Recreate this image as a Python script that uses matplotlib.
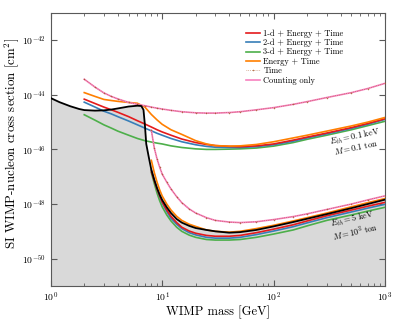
import numpy as np
import matplotlib
matplotlib.use("Agg")
import matplotlib.pyplot as plt
from matplotlib.ticker import FixedLocator, LogLocator, NullFormatter, LogFormatterSciNotation

plt.rcParams['font.family'] = ['cmr10', 'DejaVu Serif']
plt.rcParams['mathtext.fontset'] = 'cm'
plt.rcParams['axes.formatter.use_mathtext'] = True

# ---- data (log10 of cross section in cm^2) ----
# Floor curve (black)
floor_mass = [1, 1.2, 1.5, 1.8, 2, 2.5, 3, 3.5, 4, 5, 6, 6.5, 6.8, 7.0, 7.2, 7.6, 8, 8.5, 9, 9.5, 10, 11, 12,
              13.5, 15, 17.5, 20, 25, 30, 40, 50, 70, 100, 150, 200, 300, 500, 700, 1000]
floor_logsig = [-44.12, -44.27, -44.42, -44.52, -44.56, -44.58, -44.57, -44.54, -44.50, -44.43, -44.40, -44.41,
                -44.55, -45.10, -45.80, -46.30, -46.75, -47.12, -47.42, -47.66, -47.85, -48.12, -48.33,
                -48.55, -48.68, -48.80, -48.88, -48.95, -49.00, -49.05, -49.03, -48.95, -48.82, -48.66,
                -48.54, -48.37, -48.15, -48.00, -47.84]

# Upper group: E_th = 0.1 keV, M = 0.1 ton
low_mass = [2, 2.5, 3, 3.5, 4, 5, 6, 7, 8, 9, 10, 12, 15, 20, 25, 30, 40, 50, 70, 100, 150, 200, 300, 500, 700, 1000]
low_1d = [-44.16, -44.32, -44.45, -44.55, -44.64, -44.80, -44.95, -45.07, -45.18, -45.28, -45.36, -45.48, -45.62,
          -45.75, -45.82, -45.86, -45.89, -45.90, -45.87, -45.80, -45.66, -45.55, -45.40, -45.20, -45.05, -44.88]
low_2d = [-44.27, -44.45, -44.60, -44.70, -44.80, -44.96, -45.10, -45.22, -45.32, -45.41, -45.48, -45.60, -45.72,
          -45.83, -45.89, -45.92, -45.93, -45.93, -45.90, -45.83, -45.70, -45.58, -45.43, -45.23, -45.08, -44.90]
low_3d = [-44.73, -44.93, -45.10, -45.22, -45.33, -45.48, -45.60, -45.68, -45.73, -45.77, -45.80, -45.87, -45.93,
          -45.98, -46.00, -46.00, -45.99, -45.98, -45.95, -45.88, -45.75, -45.63, -45.48, -45.28, -45.13, -44.97]
low_energy = [-43.92, -44.06, -44.17, -44.21, -44.24, -44.28, -44.31, -44.45, -44.72, -44.92, -45.08, -45.28, -45.45,
              -45.68, -45.80, -45.86, -45.88, -45.87, -45.82, -45.72, -45.58, -45.48, -45.33, -45.14, -45.00, -44.83]
low_time = [-43.43, -43.72, -43.93, -44.06, -44.15, -44.28, -44.35, -44.40, -44.45, -44.49, -44.52, -44.57, -44.62,
            -44.66, -44.67, -44.67, -44.65, -44.62, -44.55, -44.47, -44.35, -44.25, -44.10, -43.92, -43.77, -43.58]
low_count = [-43.43, -43.72, -43.93, -44.06, -44.15, -44.28, -44.35, -44.40, -44.45, -44.49, -44.52, -44.57, -44.62,
             -44.66, -44.67, -44.67, -44.65, -44.62, -44.55, -44.47, -44.35, -44.25, -44.10, -43.92, -43.77, -43.58]

# Lower group: E_th = 5 keV, M = 10^3 ton
high_mass = [8, 8.5, 9, 9.5, 10, 11, 12, 13.5, 15, 17.5, 20, 25, 30, 40, 50, 70, 100, 150, 200, 300, 500, 700, 1000]
high_1d = [-46.80, -47.15, -47.45, -47.70, -47.92, -48.22, -48.45, -48.68, -48.85, -48.99, -49.07, -49.15, -49.18,
           -49.18, -49.15, -49.05, -48.92, -48.76, -48.62, -48.43, -48.22, -48.08, -47.94]
high_2d = [-46.75, -47.12, -47.45, -47.72, -47.95, -48.27, -48.52, -48.74, -48.90, -49.05, -49.13, -49.22, -49.25,
           -49.25, -49.22, -49.12, -48.99, -48.83, -48.69, -48.50, -48.29, -48.15, -48.01]
high_3d = [-46.85, -47.25, -47.60, -47.88, -48.10, -48.40, -48.62, -48.85, -49.00, -49.14, -49.22, -49.30, -49.32,
           -49.32, -49.30, -49.22, -49.10, -48.95, -48.80, -48.60, -48.40, -48.26, -48.12]
high_energy = [-46.40, -46.85, -47.20, -47.48, -47.70, -48.00, -48.22, -48.45, -48.60, -48.74, -48.82, -48.95, -49.00,
               -49.03, -49.00, -48.90, -48.78, -48.62, -48.50, -48.33, -48.10, -47.95, -47.80]
high_time = [-45.30, -45.95, -46.35, -46.65, -46.90, -47.20, -47.45, -47.73, -47.95, -48.18, -48.33, -48.50, -48.60,
             -48.66, -48.68, -48.65, -48.57, -48.46, -48.36, -48.20, -48.00, -47.85, -47.70]
high_count = [-45.30, -45.95, -46.35, -46.65, -46.90, -47.20, -47.45, -47.73, -47.95, -48.18, -48.33, -48.50, -48.60,
              -48.66, -48.68, -48.65, -48.57, -48.46, -48.36, -48.20, -48.00, -47.85, -47.70]

labels = ["1-d + Energy + Time", "2-d + Energy + Time", "3-d + Energy + Time",
          "Energy + Time", "Time", "Counting only"]

C_RED, C_BLUE, C_GREEN, C_ORANGE, C_BROWN, C_PINK = '#e41a1c', '#377eb8', '#4daf4a', '#ff7f00', '#a65628', '#f781bf'


def sig(a):
    return 10.0 ** np.asarray(a)


fig = plt.figure(figsize=(4.07, 3.22), dpi=100)
ax = fig.add_axes([0.1246, 0.112, 0.8214, 0.848])

ax.fill_between(floor_mass, 1e-53, sig(floor_logsig), color='#d9d9d9', lw=0, zorder=1)

lw = 1.2
time_kw = dict(color=C_BROWN, lw=0.5, ls=':', marker='.', ms=2.2, mew=0, alpha=0.8)

for mass, d1, d2, d3, en in [(low_mass, low_1d, low_2d, low_3d, low_energy),
                             (high_mass, high_1d, high_2d, high_3d, high_energy)]:
    ax.plot(mass, sig(d3), color=C_GREEN, lw=lw, zorder=3)
    ax.plot(mass, sig(d2), color=C_BLUE, lw=lw, zorder=3)
    ax.plot(mass, sig(d1), color=C_RED, lw=lw, zorder=3)
    ax.plot(mass, sig(en), color=C_ORANGE, lw=lw, zorder=3)

ax.plot(high_mass, sig(high_count), color=C_PINK, lw=lw, zorder=3)
ax.plot(high_mass, sig(high_time), zorder=4, **time_kw)
ax.plot(low_mass, sig(low_count), color=C_PINK, lw=lw, zorder=3)
ax.plot(low_mass, sig(low_time), zorder=4, **time_kw)

ax.plot(floor_mass, sig(floor_logsig), color='black', lw=1.3, zorder=5)

hs = [
    plt.Line2D([], [], color=C_RED, lw=lw),
    plt.Line2D([], [], color=C_BLUE, lw=lw),
    plt.Line2D([], [], color=C_GREEN, lw=lw),
    plt.Line2D([], [], color=C_ORANGE, lw=lw),
    plt.Line2D([], [], **time_kw),
    plt.Line2D([], [], color=C_PINK, lw=lw),
]
ax.legend(hs, labels, loc='upper left', bbox_to_anchor=(0.585, 0.94), frameon=False,
          fontsize=6, handlelength=1.7, handletextpad=0.35, labelspacing=0.12,
          borderaxespad=0, borderpad=0)

ax.set_xscale('log')
ax.set_yscale('log')
ax.set_xlim(1, 1000)
ax.set_ylim(1e-51, 1e-41)
ax.yaxis.set_major_locator(FixedLocator([1e-50, 1e-48, 1e-46, 1e-44, 1e-42]))
ax.yaxis.set_minor_locator(FixedLocator([]))
ax.yaxis.set_major_formatter(LogFormatterSciNotation())
ax.xaxis.set_minor_locator(LogLocator(base=10, subs=np.arange(2, 10)))
ax.xaxis.set_minor_formatter(NullFormatter())
ax.tick_params(which='both', direction='in', top=True, right=True, labelsize=7, color='0.35')
ax.tick_params(which='major', length=4)
ax.tick_params(which='minor', length=2)
for s in ax.spines.values():
    s.set_color('0.35')

ax.set_xlabel('WIMP mass [GeV]', fontsize=9, labelpad=1)
ax.set_ylabel(r'SI WIMP-nucleon cross section [cm$^{2}$]', fontsize=9.3)
ax.yaxis.set_label_coords(-0.088, 0.52)

ax.text(536, 10**-45.53, r'$E_{th}=0.1$ keV', fontsize=6, rotation=12, ha='center', va='center', zorder=6)
ax.text(547, 10**-45.93, r'$M=0.1$ ton', fontsize=6, rotation=12, ha='center', va='center', zorder=6)
ax.text(514, 10**-48.56, r'$E_{th}=5$ keV', fontsize=6, rotation=13, ha='center', va='center', zorder=6)
ax.text(536, 10**-49.0, r'$M=10^3$ ton', fontsize=6, rotation=13, ha='center', va='center', zorder=6)

fig.savefig('out.png', dpi=100)
